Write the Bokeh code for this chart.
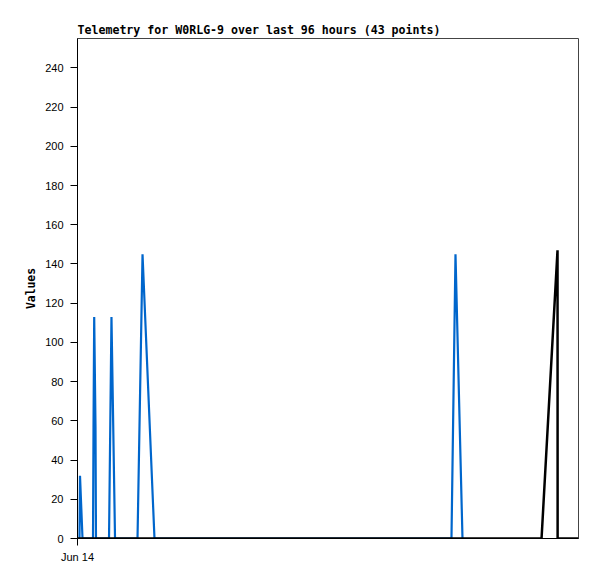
from bokeh.plotting import figure
from bokeh.models import Range1d, FixedTicker
from bokeh.embed import file_html
from bokeh.resources import INLINE

# Hours since start of the 96-hour window
blue_hours = [0.38, 0.48, 0.96, 2.97, 3.07, 3.20, 3.45, 3.54, 6.04, 6.51, 7.19,
              11.50, 12.46, 14.75, 71.66, 72.43, 73.77]
blue_values = [0, 32, 0, 0, 57, 113, 57, 0, 0, 113, 0,
               0, 145, 0, 0, 145, 0]

black_hours = [0.0, 88.92, 91.98, 92.0, 96.0]
black_values = [0, 0, 147, 0, 0]

y_ticks = [0, 20, 40, 60, 80, 100, 120, 140, 160, 180, 200, 220, 240]
x_tick_labels = {0: "Jun 14"}

p = figure(width=589, height=571, output_backend="svg", toolbar_location=None,
           x_range=Range1d(0, 96), y_range=Range1d(0, 255),
           min_border_left=77, min_border_right=11, min_border_top=38,
           min_border_bottom=33)

p.title.text = "Telemetry for W0RLG-9 over last 96 hours (43 points)"
p.title.align = "left"
p.title.offset = 0
p.title.standoff = 3
p.title.text_font = "DejaVu Sans Mono"
p.title.text_font_size = "11.6px"
p.title.text_font_style = "bold"
p.title.text_color = "black"

p.grid.visible = False
p.outline_line_color = "#444444"
p.outline_line_width = 1
p.background_fill_color = "white"
p.border_fill_color = "white"

p.line(blue_hours, blue_values, line_color="#0066CC", line_width=2.2)
p.line(black_hours, black_values, line_color="black", line_width=2.5)

ya = p.yaxis[0]
ya.ticker = FixedTicker(ticks=y_ticks)
ya.minor_tick_line_color = None
ya.major_tick_in = 0
ya.major_tick_out = 7
ya.axis_line_color = "black"
ya.major_label_text_font = "Liberation Sans"
ya.major_label_text_font_size = "11px"
ya.major_label_text_color = "black"
ya.major_label_standoff = 7
ya.axis_label = "Values"
ya.axis_label_text_font = "DejaVu Sans Mono"
ya.axis_label_text_font_size = "11.4px"
ya.axis_label_text_font_style = "bold"
ya.axis_label_text_color = "black"
ya.axis_label_standoff = 4

xa = p.xaxis[0]
xa.ticker = FixedTicker(ticks=[0])
xa.major_label_overrides = x_tick_labels
xa.minor_tick_line_color = None
xa.major_tick_in = 0
xa.major_tick_out = 7
xa.axis_line_color = "black"
xa.major_label_text_font = "Liberation Sans"
xa.major_label_text_font_size = "11px"
xa.major_label_text_color = "black"
xa.major_label_standoff = 5

open("out.html", "w").write(file_html(p, INLINE))
